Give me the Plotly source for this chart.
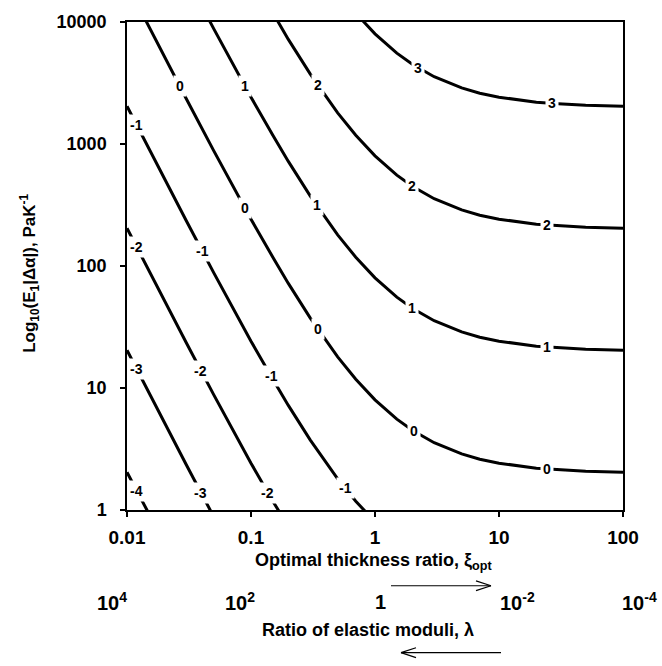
import numpy as np
import plotly.graph_objects as go

# ---- data ----
xi = [0.01, 0.015, 0.02, 0.03, 0.05, 0.07, 0.1, 0.15, 0.2, 0.3, 0.5, 0.7,
      1, 1.5, 2, 3, 5, 7, 10, 20, 30, 50, 100]

levels = [-4, -3, -2, -1, 0, 1, 2, 3]

curve_m4 = [2.04, 0.916, 0.52, 0.236, 0.0882, 0.0467, 0.0242, 0.0118, 0.0072, 0.00376,
            0.0018, 0.00118, 0.0008, 0.000556, 0.00045, 0.000356, 0.000288, 0.000261,
            0.000242, 0.00022, 0.000214, 0.000208, 0.000204]
curve_m3 = [20.4, 9.16, 5.2, 2.36, 0.882, 0.467, 0.242, 0.118, 0.072, 0.0376,
            0.018, 0.0118, 0.008, 0.00556, 0.0045, 0.00356, 0.00288, 0.00261,
            0.00242, 0.0022, 0.00214, 0.00208, 0.00204]
curve_m2 = [204, 91.6, 52, 23.6, 8.82, 4.67, 2.42, 1.18, 0.72, 0.376,
            0.18, 0.118, 0.08, 0.0556, 0.045, 0.0356, 0.0288, 0.0261,
            0.0242, 0.022, 0.0214, 0.0208, 0.0204]
curve_m1 = [2040, 916, 520, 236, 88.2, 46.7, 24.2, 11.8, 7.2, 3.76,
            1.8, 1.18, 0.8, 0.556, 0.45, 0.356, 0.288, 0.261,
            0.242, 0.22, 0.214, 0.208, 0.204]
curve_0 = [20400, 9160, 5200, 2360, 882, 467, 242, 118, 72, 37.6,
           18, 11.8, 8, 5.56, 4.5, 3.56, 2.88, 2.61,
           2.42, 2.2, 2.14, 2.08, 2.04]
curve_1 = [204000, 91600, 52000, 23600, 8820, 4670, 2420, 1180, 720, 376,
           180, 118, 80, 55.6, 45, 35.6, 28.8, 26.1,
           24.2, 22, 21.4, 20.8, 20.4]
curve_2 = [2040000, 916000, 520000, 236000, 88200, 46700, 24200, 11800, 7200, 3760,
           1800, 1180, 800, 556, 450, 356, 288, 261,
           242, 220, 214, 208, 204]
curve_3 = [20400000, 9160000, 5200000, 2360000, 882000, 467000, 242000, 118000, 72000, 37600,
           18000, 11800, 8000, 5560, 4500, 3560, 2880, 2610,
           2420, 2200, 2140, 2080, 2040]

curves = [curve_m4, curve_m3, curve_m2, curve_m1, curve_0, curve_1, curve_2, curve_3]

# xi positions where the contour labels sit
labels_m4 = [0.012]
labels_m3 = [0.012, 0.0395]
labels_m2 = [0.012, 0.0395, 0.137]
labels_m1 = [0.012, 0.0403, 0.145, 0.573]
labels_0 = [0.0267, 0.0896, 0.347, 2.07, 24.4]
labels_1 = [0.0896, 0.34, 2.0, 24.4]
labels_2 = [0.347, 2.0, 24.4]
labels_3 = [2.22, 26.7]
label_pos = [labels_m4, labels_m3, labels_m2, labels_m1, labels_0, labels_1, labels_2, labels_3]

x_ticks = [0.01, 0.1, 1, 10, 100]
x_ticktext = ["0.01", "0.1", "1", "10", "100"]
y_ticks = [1, 10, 100, 1000, 10000]
y_ticktext = ["1", "10", "100", "1000", "10000"]
lambda_ticktext = ["10<sup>4</sup>", "10<sup>2</sup>", "1", "10<sup>-2</sup>", "10<sup>-4</sup>"]

# ---- figure ----
W, H = 662, 666
L, R, T, B = 127, 623, 14, 510
pw, ph = R - L, B - T

def px(x):
    return (x - L) / pw

def py(y):
    return (B - y) / ph

fig = go.Figure()
for lev, cv in zip(levels, curves):
    fig.add_trace(go.Scatter(x=xi, y=cv, mode="lines",
                             line=dict(color="black", width=3),
                             hoverinfo="skip", showlegend=False))

annotations = []
lx = np.log10(xi)
for lev, cv, lp in zip(levels, curves, label_pos):
    ly = np.log10(cv)
    for xl in lp:
        yl = float(np.interp(np.log10(xl), lx, ly))
        annotations.append(dict(x=float(np.log10(xl)), y=yl, xref="x", yref="y",
                                text=str(lev), showarrow=False,
                                bgcolor="white", borderpad=2,
                                font=dict(family="Liberation Sans", size=14,
                                          color="black", weight="bold")))

title_font = dict(family="Liberation Sans", size=18, color="black", weight="bold")
annotations.append(dict(x=px(373), y=py(562), xref="paper", yref="paper",
                        text="Optimal thickness ratio, ξ<sub>opt</sub>", showarrow=False,
                        xanchor="center", yanchor="middle", font=title_font))
annotations.append(dict(x=px(368), y=py(632), xref="paper", yref="paper",
                        text="Ratio of elastic moduli, λ", showarrow=False,
                        xanchor="center", yanchor="middle", font=title_font))
annotations.append(dict(x=px(30), y=py(270), xref="paper", yref="paper",
                        text="Log<sub>10</sub>(E<sub>1</sub>|Δα|), PaK<sup>-1</sup>",
                        showarrow=False, textangle=-90,
                        xanchor="center", yanchor="middle",
                        font=dict(family="Liberation Sans", size=17, color="black", weight="bold")))

lam_x = [112, 240, 380, 517, 639]
for xx, tt in zip(lam_x, lambda_ticktext):
    annotations.append(dict(x=px(xx), y=py(603), xref="paper", yref="paper",
                            text=tt, showarrow=False, xanchor="center", yanchor="middle",
                            font=dict(family="Liberation Sans", size=20, color="black", weight="bold")))

shapes = []
def seg(x0, y0, x1, y1):
    shapes.append(dict(type="line", xref="paper", yref="paper",
                       x0=px(x0), y0=py(y0), x1=px(x1), y1=py(y1),
                       line=dict(color="black", width=1.2)))

# arrow to the right (xi increases)
seg(391, 587, 491, 587)
seg(476, 582, 491, 587)
seg(476, 592, 491, 587)
# arrow to the left (lambda increases)
seg(401, 655, 501, 655)
seg(416, 650, 401, 655)
seg(416, 660, 401, 655)

tick_font_x = dict(family="Liberation Sans", size=19, color="black", weight="bold")
tick_font_y = dict(family="Liberation Sans", size=18, color="black", weight="bold")

fig.update_layout(
    width=W, height=H,
    margin=dict(l=L, r=W - R, t=T, b=H - B),
    plot_bgcolor="white", paper_bgcolor="white",
    annotations=annotations, shapes=shapes,
    xaxis=dict(type="log", range=[-2, 2], tickvals=x_ticks, ticktext=x_ticktext,
               ticks="outside", ticklen=5, tickwidth=1.5, tickcolor="black",
               showline=True, linecolor="black", linewidth=1.5, mirror=True,
               showgrid=False, zeroline=False, tickfont=tick_font_x,
               ticklabelstandoff=4),
    yaxis=dict(type="log", range=[0, 4], tickvals=y_ticks, ticktext=y_ticktext,
               ticks="outside", ticklen=5, tickwidth=1.5, tickcolor="black",
               showline=True, linecolor="black", linewidth=1.5, mirror=True,
               showgrid=False, zeroline=False, tickfont=tick_font_y,
               ticklabelstandoff=10),
)

fig.write_html("out.html")
